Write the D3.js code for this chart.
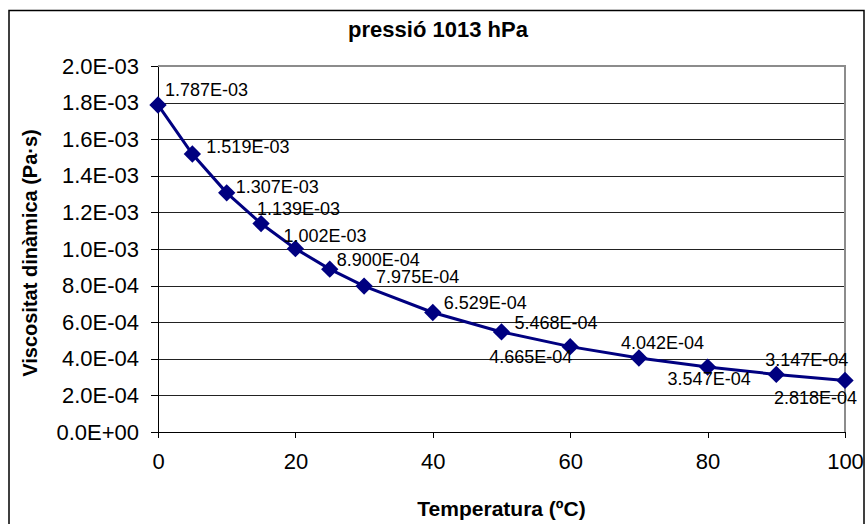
<!DOCTYPE html>
<html>
<head>
<meta charset="utf-8">
<script src="https://cdn.jsdelivr.net/npm/d3@7"></script>
<style>
  body { margin: 0; background: #fff; }
  svg text { font-family: "Liberation Sans", Arial, sans-serif; fill: #000; }
  .axis path, .axis line { stroke: #000; shape-rendering: crispEdges; }
  .grid line { stroke: #222; stroke-width: 1; shape-rendering: crispEdges; }
  .grid path { display: none; }
</style>
</head>
<body>
<div id="chart"></div>
<script>
// data
const temperatures = [0, 5, 10, 15, 20, 25, 30, 40, 50, 60, 70, 80, 90, 100];
const viscosity = [1.787e-3, 1.519e-3, 1.307e-3, 1.139e-3, 1.002e-3, 8.900e-4, 7.975e-4,
  6.529e-4, 5.468e-4, 4.665e-4, 4.042e-4, 3.547e-4, 3.147e-4, 2.818e-4];
const xTicks = [0, 20, 40, 60, 80, 100];
const yTicks = [0, 2e-4, 4e-4, 6e-4, 8e-4, 1e-3, 1.2e-3, 1.4e-3, 1.6e-3, 1.8e-3, 2e-3];
const titleText = "pressió 1013 hPa";
const xTitle = "Temperatura (ºC)";
const yTitle = "Viscositat dinàmica (Pa·s)";

// where each data label sits relative to its point (left edge, text middle)
const labelNudge = [[7, -15], [14, -7], [9, -6], [-4, -15], [-12, -13], [7, -9], [12, -9],
  [11, -10], [13, -9], [-81, 10], [-18, -15], [-40, 12], [-11, -15], [-71, 17]];

const width = 865,
  height = 524,
  margin = { top: 66, bottom: 92, left: 158, right: 20 };

// excel style scientific label, e.g. 1.787E-03
function sci(v, digits) {
  const [m, e] = v.toExponential(digits).split("e");
  const n = +e;
  return m + "E" + (n < 0 ? "-" : "+") + String(Math.abs(n)).padStart(2, "0");
}

const data = temperatures.map((t, i) => ({ t: t, v: viscosity[i], nudge: labelNudge[i] }));

const svg = d3.select("#chart")
  .append("svg")
  .attr("width", width)
  .attr("height", height);

// outer chart border
svg.append("rect")
  .attr("x", 9)
  .attr("y", 10.5)
  .attr("width", 855)
  .attr("height", 530)
  .attr("fill", "none")
  .attr("stroke", "#000")
  .attr("stroke-width", 1.5);

const xScale = d3.scaleLinear()
  .domain([0, 100])
  .range([margin.left, width - margin.right]);

const yScale = d3.scaleLinear()
  .domain([0, 2e-3])
  .range([height - margin.bottom, margin.top]);

// gridlines
svg.append("g")
  .attr("class", "grid")
  .attr("transform", `translate(${margin.left},0)`)
  .call(d3.axisLeft(yScale).tickValues(yTicks).tickSize(-(width - margin.left - margin.right)).tickFormat(""));

// plot area border, top + right in grey
svg.append("path")
  .attr("d", `M${margin.left},${margin.top}H${width - margin.right}V${height - margin.bottom}`)
  .attr("fill", "none")
  .attr("stroke", "#8c8c8c")
  .attr("stroke-width", 2);

// axes
const xAxis = svg.append("g")
  .attr("class", "axis x-axis")
  .attr("transform", `translate(0,${height - margin.bottom})`)
  .call(d3.axisBottom(xScale).tickValues(xTicks).tickSize(6).tickPadding(15).tickSizeOuter(0));
xAxis.selectAll("text").attr("font-size", 22);

const yAxis = svg.append("g")
  .attr("class", "axis y-axis")
  .attr("transform", `translate(${margin.left},0)`)
  .call(d3.axisLeft(yScale).tickValues(yTicks).tickSize(7).tickPadding(12).tickSizeOuter(0)
    .tickFormat(d => sci(d, 1)));
yAxis.selectAll("text").attr("font-size", 22);
svg.selectAll(".axis .domain").attr("stroke-width", 1.2);

// titles
svg.append("text")
  .attr("x", 438)
  .attr("y", 37)
  .attr("text-anchor", "middle")
  .attr("font-weight", "bold")
  .attr("font-size", 22)
  .text(titleText);

svg.append("text")
  .attr("x", (xScale.range()[0] + xScale.range()[1]) / 2)
  .attr("y", 516)
  .attr("text-anchor", "middle")
  .attr("font-weight", "bold")
  .attr("font-size", 21)
  .text(xTitle);

svg.append("text")
  .attr("transform", `translate(37,${(yScale.range()[0] + yScale.range()[1]) / 2 + 4}) rotate(-90)`)
  .attr("text-anchor", "middle")
  .attr("font-weight", "bold")
  .attr("font-size", 20)
  .text(yTitle);

// series line
const lineFunc = d3.line()
  .x(d => xScale(d.t))
  .y(d => yScale(d.v));

svg.append("path")
  .datum(data)
  .attr("d", lineFunc)
  .attr("fill", "none")
  .attr("stroke", "#000080")
  .attr("stroke-width", 3);

// diamond markers
svg.selectAll("path.marker")
  .data(data)
  .join("path")
  .attr("class", "marker")
  .attr("d", d3.symbol().type(d3.symbolSquare).size(150))
  .attr("transform", d => `translate(${xScale(d.t)},${yScale(d.v)}) rotate(45)`)
  .attr("fill", "#000080");

// data labels
svg.selectAll("text.dlabel")
  .data(data)
  .join("text")
  .attr("class", "dlabel")
  .attr("x", d => xScale(d.t) + d.nudge[0])
  .attr("y", d => yScale(d.v) + d.nudge[1])
  .attr("dy", "0.35em")
  .attr("font-size", 18)
  .text(d => sci(d.v, 3));
</script>
</body>
</html>
